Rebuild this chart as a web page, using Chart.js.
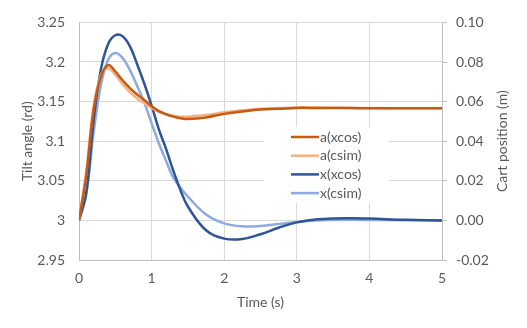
<!DOCTYPE html>
<html lang="en">
<head>
  <meta charset="UTF-8">
  <title>Tilt angle and cart position</title>
  <script src="https://cdn.jsdelivr.net/npm/chart.js"></script>
  <style>
    body {
      margin: 0;
      background: #fff;
    }
    .chart-box {
      width: 527px;
      height: 328px;
    }
  </style>
</head>
<body>

  <div class="chart-box">
    <canvas id="tiltChart"></canvas>
  </div>

  <script>
    // time base (s)
    const times = [0, 0.1, 0.2, 0.3, 0.4, 0.5, 0.6, 0.7, 0.8, 0.9, 1.0, 1.1, 1.2, 1.3, 1.4, 1.5,
                   1.75, 2.0, 2.25, 2.5, 2.75, 3.0, 3.25, 3.5, 3.75, 4.0, 4.5, 5.0];

    // tilt angle (rd), left axis
    const aXcos = [3.0, 3.057, 3.139, 3.181, 3.196, 3.188, 3.177, 3.167, 3.159, 3.152, 3.144, 3.138, 3.134, 3.131, 3.129, 3.128,
                   3.130, 3.1345, 3.1375, 3.140, 3.141, 3.142, 3.142, 3.142, 3.1418, 3.1417, 3.1416, 3.1416];
    const aCsim = [3.0, 3.062, 3.143, 3.183, 3.192, 3.184, 3.172, 3.162, 3.154, 3.148, 3.142, 3.137, 3.134, 3.132, 3.131, 3.131,
                   3.133, 3.1365, 3.139, 3.141, 3.1418, 3.1425, 3.1424, 3.1422, 3.142, 3.1418, 3.1416, 3.1416];

    // cart position (m), right axis
    const xXcos = [0, 0.014, 0.050, 0.076, 0.089, 0.0935, 0.093, 0.088, 0.079, 0.069, 0.058, 0.046, 0.036, 0.025, 0.015, 0.007,
                   -0.005, -0.0092, -0.0094, -0.007, -0.0037, -0.001, 0.0004, 0.001, 0.0011, 0.0009, 0.0003, 0];
    const xCsim = [0, 0.013, 0.044, 0.068, 0.081, 0.0845, 0.082, 0.076, 0.068, 0.0595, 0.049, 0.039, 0.030, 0.0215, 0.0165, 0.012,
                   0.003, -0.0015, -0.003, -0.0028, -0.0018, -0.0008, -0.0001, 0.0002, 0.0003, 0.0002, 0.0001, 0];

    const seriesNames = ['a(xcos)', 'a(csim)', 'x(xcos)', 'x(csim)'];
    const seriesColors = ['#C55A11', '#F4B183', '#2F5597', '#8FAADC'];

    const textColor = '#595959';
    const gridColor = '#D9D9D9';
    const axisColor = '#BFBFBF';
    const fontFamily = 'Lato, "Open Sans", sans-serif';
    const fontSize = 14;

    const toPoints = vals => vals.map((v, i) => ({ x: times[i], y: v }));

    // legend box sitting inside the plot, white background over the grid
    const boxLegend = {
      id: 'boxLegend',
      afterDraw(chart) {
        const ctx = chart.ctx;
        ctx.save();
        ctx.fillStyle = '#fff';
        ctx.fillRect(264, 127, 125, 76);
        ctx.font = fontSize + 'px ' + fontFamily;
        ctx.textBaseline = 'middle';
        chart.data.datasets.forEach((ds, i) => {
          const y = 137 + i * 18.7;
          ctx.strokeStyle = ds.borderColor;
          ctx.lineWidth = 2.5;
          ctx.beginPath();
          ctx.moveTo(291, y);
          ctx.lineTo(319, y);
          ctx.stroke();
          ctx.fillStyle = textColor;
          ctx.fillText(ds.label, 320, y);
        });
        ctx.restore();
      }
    };

    // right axis title reads bottom-to-top, same as the left one
    const rightTitle = {
      id: 'rightTitle',
      afterDraw(chart) {
        const ctx = chart.ctx;
        const area = chart.chartArea;
        ctx.save();
        ctx.translate(502, (area.top + area.bottom) / 2);
        ctx.rotate(-Math.PI / 2);
        ctx.font = fontSize + 'px ' + fontFamily;
        ctx.fillStyle = textColor;
        ctx.textAlign = 'center';
        ctx.textBaseline = 'middle';
        ctx.fillText('Cart position (m)', 0, 0);
        ctx.restore();
      }
    };

    const ctx = document.getElementById('tiltChart').getContext('2d');
    new Chart(ctx, {
      type: 'line',
      data: {
        datasets: [aXcos, aCsim, xXcos, xCsim].map((vals, i) => ({
          label: seriesNames[i],
          data: toPoints(vals),
          borderColor: seriesColors[i],
          backgroundColor: seriesColors[i],
          borderWidth: 2.5,
          pointRadius: 0,
          tension: 0.4,
          yAxisID: i < 2 ? 'y' : 'y1'
        }))
      },
      options: {
        responsive: true,
        maintainAspectRatio: false,
        animation: false,
        layout: { padding: { top: 15, left: 0, right: 0, bottom: 0 } },
        plugins: {
          legend: { display: false },
          tooltip: { enabled: false }
        },
        scales: {
          x: {
            type: 'linear',
            min: 0,
            max: 5,
            ticks: { stepSize: 1, padding: 10, color: textColor, font: { family: fontFamily, size: fontSize } },
            grid: { color: gridColor, drawTicks: false },
            border: { color: axisColor },
            title: {
              display: true,
              text: 'Time (s)',
              color: textColor,
              font: { family: fontFamily, size: fontSize },
              padding: { top: 0, bottom: 17 }
            },
            afterFit: scale => { scale.height = 68; }
          },
          y: {
            position: 'left',
            min: 2.95,
            max: 3.25,
            ticks: {
              stepSize: 0.05,
              padding: 14,
              color: textColor,
              font: { family: fontFamily, size: fontSize },
              callback: v => String(+v.toFixed(2))
            },
            grid: { color: gridColor, drawTicks: false },
            border: { color: axisColor },
            title: {
              display: true,
              text: 'Tilt angle (rd)',
              color: textColor,
              font: { family: fontFamily, size: fontSize },
              padding: { top: 19, bottom: 0 }
            },
            afterFit: scale => { scale.width = 79; }
          },
          y1: {
            position: 'right',
            min: -0.02,
            max: 0.10,
            ticks: {
              stepSize: 0.02,
              padding: 9,
              color: textColor,
              font: { family: fontFamily, size: fontSize },
              callback: v => v.toFixed(2)
            },
            grid: { color: axisColor, drawOnChartArea: false, tickLength: 5 },
            border: { color: axisColor },
            afterFit: scale => { scale.width = 85; }
          }
        }
      },
      plugins: [boxLegend, rightTitle]
    });
  </script>
</body>
</html>
